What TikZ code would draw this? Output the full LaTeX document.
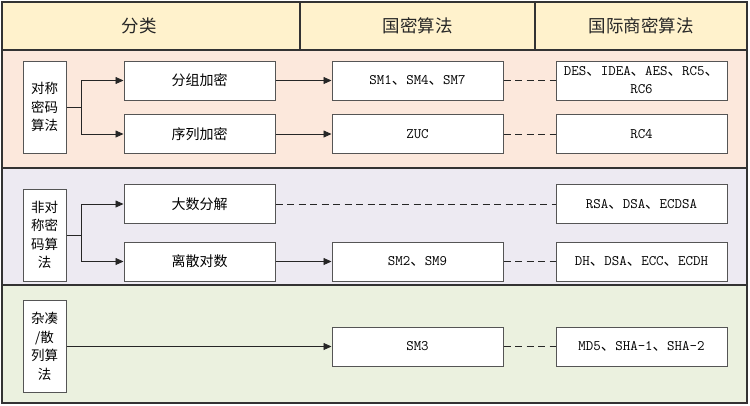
\documentclass[tikz,border=0pt]{standalone}
\usepackage{fontspec}
\newfontfamily\cjk{Noto Sans CJK SC}
\usetikzlibrary{arrows.meta}
\newcommand\mydun{{\cjk 、}}
\definecolor{hdr}{HTML}{FFF2CC}
\definecolor{peach}{HTML}{FCE8DC}
\definecolor{lav}{HTML}{EDEAF2}
\definecolor{grn}{HTML}{EBF1DF}
\definecolor{frame}{HTML}{333333}
\definecolor{boxline}{HTML}{555555}
\tikzset{
  band/.style={draw=frame, line width=1.4pt},
  box/.style={draw=boxline, fill=white, line width=1pt, inner sep=0pt, align=center},
  lbl/.style={box, minimum width=43pt, minimum height=92pt, font=\cjk\fontsize{13.5}{18.5}\selectfont},
  midbox/.style={box, minimum width=151pt, minimum height=39pt, font=\cjk\fontsize{14}{18}\selectfont},
  algbox/.style={box, minimum width=171pt, minimum height=39pt, font=\ttfamily\fontsize{14.5}{18}\selectfont},
  hdrtxt/.style={font=\cjk\fontsize{17.5}{20}\selectfont, text=black!85},
  conn/.style={line width=0.8pt, draw=black!85, -{Triangle[length=8pt,width=7pt]}},
  plainconn/.style={line width=0.8pt, draw=black!85},
  dashconn/.style={line width=0.8pt, draw=black!85, dash pattern=on 7pt off 4.5pt},
}
\begin{document}
\begin{tikzpicture}[x=1pt, y=-1pt]
\useasboundingbox (0,0) rectangle (750,405);
% header
\fill[hdr] (2,2) rectangle (747,50);
\fill[peach] (2,50) rectangle (747,168);
\fill[lav] (2,168) rectangle (747,285);
\fill[grn] (2,285) rectangle (747,403);
\draw[band] (2,2) rectangle (747,403);
\draw[band] (2,50) -- (747,50);
\draw[band] (2,168) -- (747,168);
\draw[band] (2,285) -- (747,285);
\draw[band] (300,2) -- (300,50);
\draw[band] (535,2) -- (535,50);
\node[hdrtxt] (h1) at (139,26) {分类};
\node[hdrtxt] (h2) at (417.5,26) {国密算法};
\node[hdrtxt] (h3) at (641,26) {国际商密算法};

% section 1
\node[lbl] (l1) at (44.5,107) {对称\\密码\\算法};
\node[midbox] (m11) at (199.5,80.5) {分组加密};
\node[midbox] (m12) at (199.5,134) {序列加密};
\node[algbox] (g11) at (417.5,80.5) {SM1\mydun SM4\mydun SM7};
\node[algbox] (g12) at (417.5,134) {ZUC};
\node[algbox] (i11) at (641.5,80.5) {DES\mydun IDEA\mydun AES\mydun RC5\mydun\\RC6};
\node[algbox] (i12) at (641.5,134) {RC4};
\coordinate (b1) at (81,107);
\draw[plainconn] (l1.east) -- (b1);
\draw[conn] (b1) |- (m11.west);
\draw[conn] (b1) |- (m12.west);
\draw[conn] (m11) -- (g11);
\draw[conn] (m12) -- (g12);
\draw[dashconn] (g11) -- (i11);
\draw[dashconn] (g12) -- (i12);

% section 2
\node[lbl] (l2) at (44.5,235) {非对\\称密\\码算\\法};
\node[midbox] (m21) at (199.5,204) {大数分解};
\node[midbox] (m22) at (199.5,261.5) {离散对数};
\node[algbox] (g22) at (417.5,261.5) {SM2\mydun SM9};
\node[algbox] (i21) at (641.5,204) {RSA\mydun DSA\mydun ECDSA};
\node[algbox] (i22) at (641.5,261.5) {DH\mydun DSA\mydun ECC\mydun ECDH};
\coordinate (b2) at (81,235);
\draw[plainconn] (l2.east) -- (b2);
\draw[conn] (b2) |- (m21.west);
\draw[conn] (b2) |- (m22.west);
\draw[dashconn] (m21) -- (i21);
\draw[conn] (m22) -- (g22);
\draw[dashconn] (g22) -- (i22);

% section 3
\node[lbl] (l3) at (44.5,346.5) {杂凑\\/散\\列算\\法};
\node[algbox] (g3) at (417.5,346.5) {SM3};
\node[algbox] (i3) at (641.5,346.5) {MD5\mydun SHA-1\mydun SHA-2};
\draw[conn] (l3) -- (g3);
\draw[dashconn] (g3) -- (i3);
\end{tikzpicture}
\end{document}
